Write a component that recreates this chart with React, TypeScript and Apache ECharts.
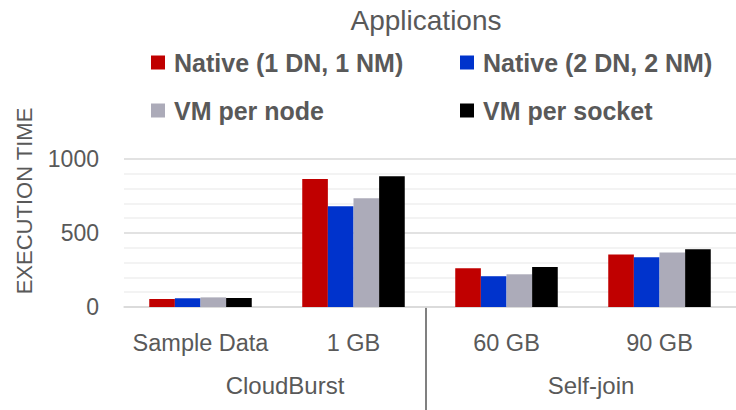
import React, { useEffect, useRef } from "react";
import * as echarts from "echarts";

const categories = ["Sample Data", "1 GB", "60 GB", "90 GB"];
const groups = ["CloudBurst", "Self-join"];
const seriesNames = ["Native (1 DN, 1 NM)", "Native (2 DN, 2 NM)", "VM per node", "VM per socket"];
const native1 = [54, 865, 262, 354];
const native2 = [59, 680, 208, 336];
const vmNode = [65, 734, 221, 368];
const vmSocket = [61, 883, 271, 390];
const yTicks = [0, 500, 1000];

const colors = ["#c00000", "#0033cc", "#acabb9", "#000000"];
const FONT = "Liberation Sans";
const TXT = "#595959";

export default function App() {
  const ref = useRef<HTMLDivElement>(null);
  useEffect(() => {
    document.body.style.margin = "0";
    const chart = echarts.init(ref.current!, undefined, { renderer: "svg" });
    const values = [native1, native2, vmNode, vmSocket];
    const legendPos = [
      { left: 151, top: 50 },
      { left: 460, top: 50 },
      { left: 151, top: 98 },
      { left: 460, top: 98 },
    ];
    chart.setOption({
      animation: false,
      textStyle: { fontFamily: FONT },
      title: {
        text: "Applications",
        left: 426,
        top: 6,
        textAlign: "center",
        padding: 0,
        textStyle: { fontFamily: FONT, fontSize: 28, fontWeight: "normal", color: TXT },
      },
      legend: seriesNames.map((n, i) => ({
        data: [n],
        left: legendPos[i].left,
        top: legendPos[i].top,
        padding: 0,
        itemWidth: 14,
        itemHeight: 14,
        icon: "rect",
        textStyle: { fontFamily: FONT, fontSize: 25, fontWeight: "bold", color: TXT, padding: [0, 0, 0, 4] },
      })),
      grid: { left: 124, right: -4, top: 159, bottom: 103, containLabel: false },
      xAxis: [
        {
          type: "category",
          data: categories,
          axisLine: { show: true, lineStyle: { color: "#d9d9d9", width: 1.5 } },
          axisTick: { show: false },
          axisLabel: { fontFamily: FONT, fontSize: 23.5, color: TXT, margin: 24, interval: 0 },
        },
        {
          type: "category",
          data: groups,
          position: "bottom",
          axisLine: { show: false },
          axisTick: { show: false },
          splitLine: { show: false },
          axisLabel: { fontFamily: FONT, fontSize: 24, color: TXT, margin: 66, interval: 0, padding: [0, 0, 0, 16] },
        },
      ],
      yAxis: {
        type: "value",
        min: yTicks[0],
        max: yTicks[yTicks.length - 1],
        interval: yTicks[1] - yTicks[0],
        name: "EXECUTION TIME",
        nameLocation: "middle",
        nameGap: 89,
        nameTextStyle: { fontFamily: FONT, fontSize: 22, color: TXT, padding: [0, 0, 0, 64] },
        axisLine: { show: false },
        axisTick: { show: false },
        axisLabel: { fontFamily: FONT, fontSize: 23, color: TXT, margin: 25, formatter: (v: number) => String(v) },
        splitLine: { show: true, lineStyle: { color: "#d9d9d9", width: 1.5 } },
        minorTick: { show: false, splitNumber: 5 },
        minorSplitLine: { show: true, lineStyle: { color: "#efefef", width: 1.5 } },
      },
      graphic: [
        {
          type: "line",
          shape: { x1: 426, y1: 307, x2: 426, y2: 410 },
          style: { stroke: "#808080", lineWidth: 2 },
          silent: true,
        },
      ],
      series: seriesNames.map((n, i) => ({
        name: n,
        type: "bar",
        xAxisIndex: 0,
        data: values[i],
        barGap: "0%",
        barCategoryGap: "33%",
        itemStyle: { color: colors[i] },
      })),
    });
    return () => chart.dispose();
  }, []);
  return <div ref={ref} style={{ width: 736, height: 410 }} />;
}
